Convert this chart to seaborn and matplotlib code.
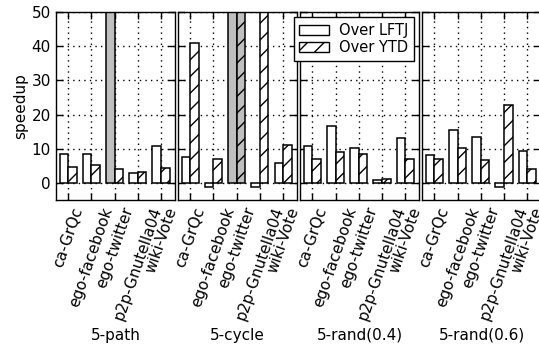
import numpy as np
import pandas as pd
import matplotlib
matplotlib.use('Agg')
import matplotlib.pyplot as plt
import matplotlib.patches as mpatches
import seaborn as sns

patterns = ['5-path', '5-cycle', '5-rand(0.4)', '5-rand(0.6)']
datasets = ['ca-GrQc', 'ego-facebook', 'ego-twitter', 'p2p-Gnutella04', 'wiki-Vote']
series = ['Over LFTJ', 'Over YTD']

lftj_path = [8.6, 8.4, 60.0, 2.9, 10.9]
ytd_path = [4.6, 5.3, 4.2, 3.2, 4.4]
lftj_cycle = [7.6, -1.3, 60.0, -1.2, 5.8]
ytd_cycle = [41.0, 7.1, 60.0, 55.0, 11.0]
lftj_rand04 = [10.7, 16.6, 10.1, 1.0, 13.3]
ytd_rand04 = [7.1, 9.1, 8.4, 1.3, 7.1]
lftj_rand06 = [8.2, 15.6, 13.4, -1.3, 9.5]
ytd_rand06 = [7.0, 10.3, 6.6, 22.7, 4.2]

# baseline did not finish -> off-scale bar shown in gray
timeout_lftj = [[False, False, True, False, False],
                [False, False, True, False, False],
                [False] * 5,
                [False] * 5]
timeout_ytd = [[False] * 5,
               [False, False, True, False, False],
               [False] * 5,
               [False] * 5]

yticks = [0, 10, 20, 30, 40, 50]

lftj_all = [lftj_path, lftj_cycle, lftj_rand04, lftj_rand06]
ytd_all = [ytd_path, ytd_cycle, ytd_rand04, ytd_rand06]

rows = []
for p, lv, yv in zip(patterns, lftj_all, ytd_all):
    for d, a, b in zip(datasets, lv, yv):
        rows.append((p, d, series[0], a))
        rows.append((p, d, series[1], b))
df = pd.DataFrame(rows, columns=['pattern', 'dataset', 'series', 'speedup'])

plt.rcParams['font.family'] = ['DejaVu Sans']
plt.rcParams['font.size'] = 11
plt.rcParams['hatch.linewidth'] = 1.0

fig, axes = plt.subplots(1, 4, sharey=True, figsize=(5.39, 3.56), dpi=100)
fig.subplots_adjust(left=0.1033, right=1.004, top=0.966, bottom=0.438, wspace=0.023)

for i, (ax, pat) in enumerate(zip(axes, patterns)):
    sub = df[df.pattern == pat]
    sns.barplot(data=sub, x='dataset', y='speedup', hue='series', order=datasets,
                hue_order=series, palette=['white', 'white'], saturation=1,
                edgecolor='black', linewidth=1.1, width=0.74, gap=0,
                errorbar=None, legend=False, ax=ax)
    for cont in ax.containers:
        for bar in cont:
            c = bar.get_x() + bar.get_width() / 2
            j = int(round(c))
            is_lftj = c < j
            flags = timeout_lftj[i] if is_lftj else timeout_ytd[i]
            if not is_lftj:
                bar.set_hatch('//')
            if flags[j]:
                bar.set_facecolor('0.75')
    ax.set_xlim(-0.54, 4.6)
    ax.set_ylim(-5, 50)
    ax.set_yticks(yticks)
    ax.set_axisbelow(True)
    ax.grid(True, axis='both', linestyle=(0, (1, 3)), color='black', linewidth=1.0)
    ax.tick_params(direction='in', top=True, right=True, length=5, width=1, labelsize=11)
    ax.tick_params(axis='x', labelrotation=71)
    for s in ax.spines.values():
        s.set_linewidth(1.0)
        s.set_color('black')
    ax.set_xlabel(pat, fontsize=11)
    if i == 0:
        ax.set_ylabel('speedup', fontsize=11, labelpad=2)
    else:
        ax.set_ylabel('')

handles = [mpatches.Patch(facecolor='white', edgecolor='black', label=series[0]),
           mpatches.Patch(facecolor='white', edgecolor='black', hatch='//', label=series[1])]
leg = axes[2].legend(handles=handles, loc='upper right', fontsize=10.5, fancybox=False,
                     edgecolor='black', framealpha=1, borderaxespad=0.35,
                     labelspacing=0.15, handletextpad=0.7, borderpad=0.4)
leg.get_frame().set_linewidth(1.0)

fig.savefig('out.png', dpi=100)
